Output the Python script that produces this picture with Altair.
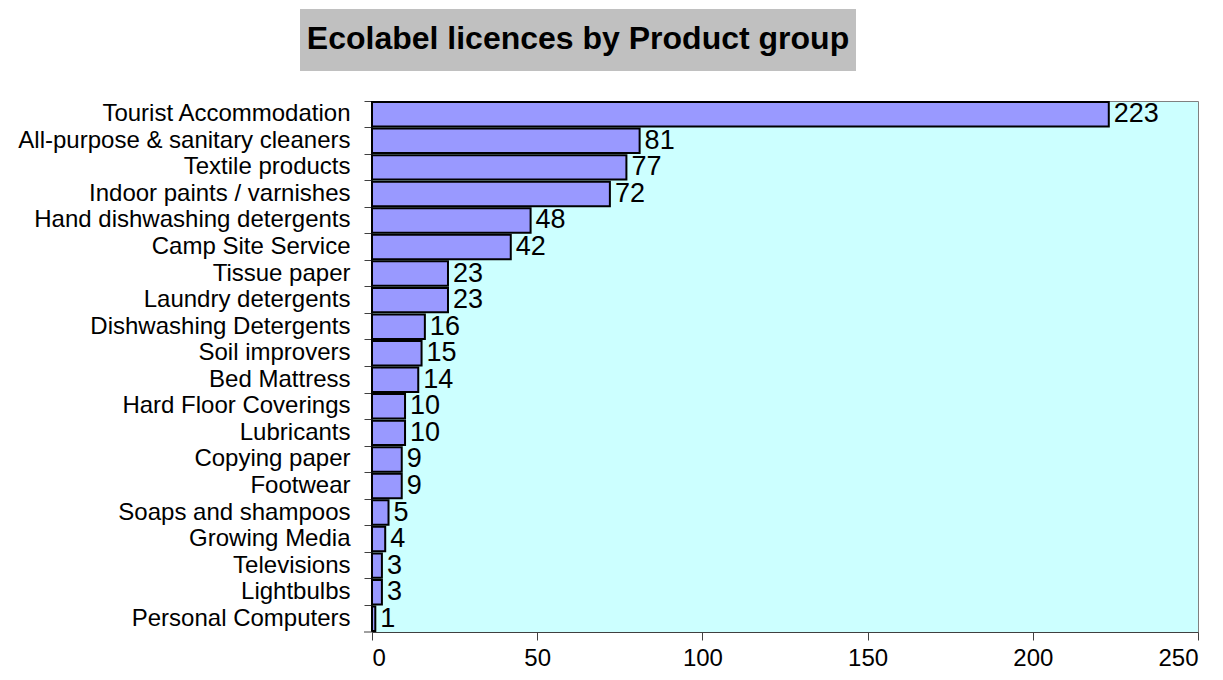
import altair as alt
import pandas as pd

categories = [
    "Tourist Accommodation", "All-purpose & sanitary cleaners", "Textile products",
    "Indoor paints / varnishes", "Hand dishwashing detergents", "Camp Site Service",
    "Tissue paper", "Laundry detergents", "Dishwashing Detergents", "Soil improvers",
    "Bed Mattress", "Hard Floor Coverings", "Lubricants", "Copying paper", "Footwear",
    "Soaps and shampoos", "Growing Media", "Televisions", "Lightbulbs", "Personal Computers",
]
values = [223, 81, 77, 72, 48, 42, 23, 23, 16, 15, 14, 10, 10, 9, 9, 5, 4, 3, 3, 1]
x_ticks = [0, 50, 100, 150, 200, 250]
title_text = "Ecolabel licences by Product group"

df = pd.DataFrame({"group": categories, "licences": values})
FONT = "Liberation Sans"
W, H = 826, 531

y_enc = alt.Y("group:N", sort=categories,
              scale=alt.Scale(paddingInner=0, paddingOuter=0),
              axis=alt.Axis(title=None, bandPosition=0, tickSize=8, labelPadding=14,
                            labelFontSize=24, labelFont=FONT, labelColor="black",
                            domainColor="#404040", tickColor="#404040", labelLimit=500))
x_enc = alt.X("licences:Q", scale=alt.Scale(domain=[0, 250], nice=False),
              axis=alt.Axis(title=None, values=x_ticks, grid=False, tickSize=8,
                            labelPadding=6, labelFontSize=24, labelFont=FONT,
                            labelColor="black", domainColor="#404040", tickColor="#404040"))

base = alt.Chart(df)
bars = base.mark_bar(fill="#9999ff", stroke="black", strokeWidth=2,
                     height=alt.RelativeBandSize(0.92)).encode(x=x_enc, y=y_enc)
labels = base.mark_text(align="left", baseline="middle", dx=5, fontSize=27,
                        font=FONT, color="black").encode(
    x="licences:Q", y=alt.Y("group:N", sort=categories), text="licences:Q")

tdf = pd.DataFrame({"t": [title_text]})
tbox = alt.Chart(tdf).mark_rect(fill="#c0c0c0").encode(
    x=alt.value(-72), x2=alt.value(484), y=alt.value(-92), y2=alt.value(-30))
ttext = alt.Chart(tdf).mark_text(align="center", baseline="alphabetic", fontSize=32,
                                 fontWeight="bold", font=FONT, color="black").encode(
    x=alt.value(206), y=alt.value(-52), text="t:N")
btick = alt.Chart(tdf).mark_rule(color="#404040").encode(
    x=alt.value(-8), x2=alt.value(0), y=alt.value(H))

chart = alt.layer(tbox, ttext, bars, labels, btick).properties(
    width=W, height=H,
    autosize=alt.AutoSizeParams(type="none"),
    padding={"left": 364, "top": 93, "right": 17, "bottom": 40},
    background="white",
).configure_view(fill="#ccffff", stroke="#808080", strokeWidth=1)

chart.save("out.html", embed_options={"renderer": "svg", "actions": False})
